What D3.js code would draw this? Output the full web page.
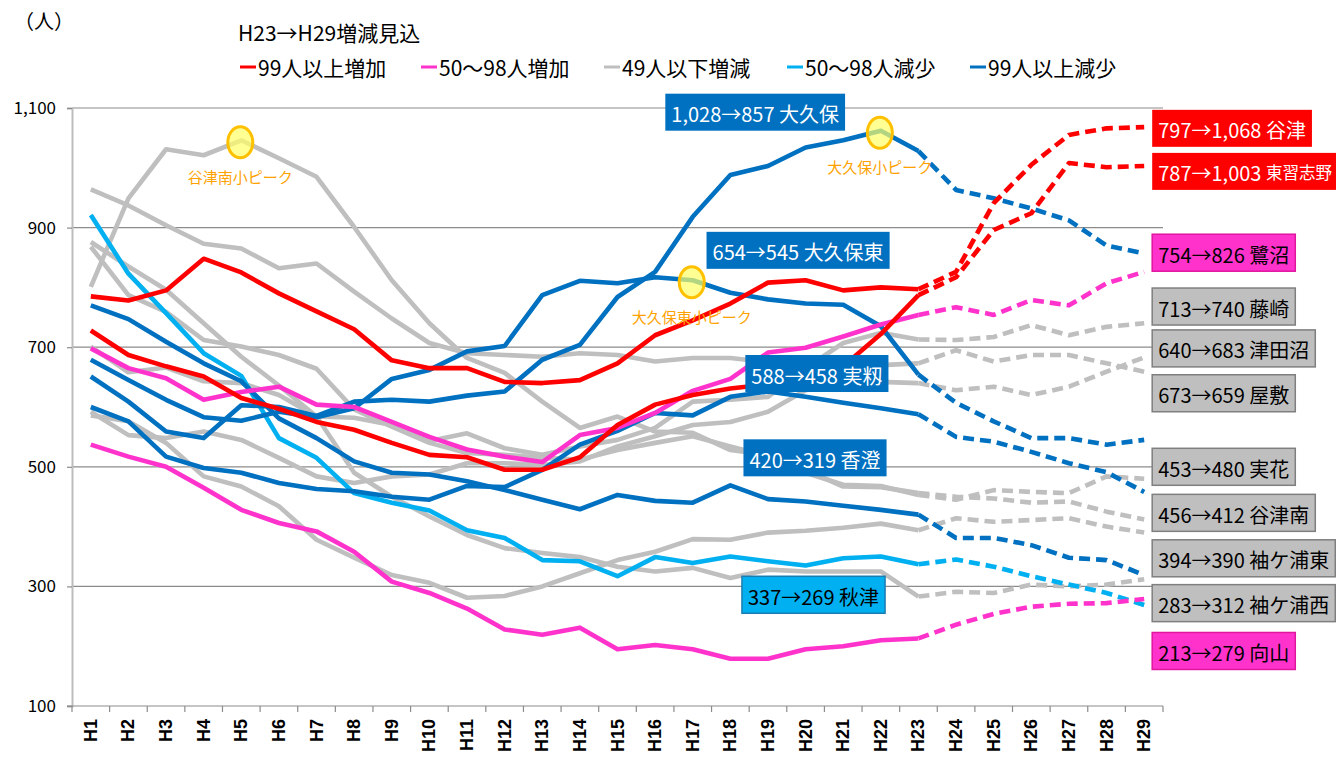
<!DOCTYPE html>
<html><head><meta charset="utf-8">
<script src="https://cdn.jsdelivr.net/npm/d3@7"></script>
<style>body{margin:0;background:#fff}svg{display:block}</style>
</head><body>
<svg id="c" width="1336" height="757"></svg>
<script>
// ---------- data ----------
const categories = ["H1","H2","H3","H4","H5","H6","H7","H8","H9","H10","H11","H12","H13","H14","H15","H16","H17","H18","H19","H20","H21","H22","H23","H24","H25","H26","H27","H28","H29"];
const yTicks = [100,300,500,700,900,1100];
const groupNames = ["99人以上増加","50〜98人増加","49人以下増減","50〜98人減少","99人以上減少"];
const groupColors = ["#FF0000","#FF33CC","#BFBFBF","#00B0F0","#0070C0"];
const legendTitle = "H23→H29増減見込";
const unitLabel = "（人）";

const yatsu        = [785,778,795,848,825,790,760,730,678,665,665,642,640,645,673,720,745,773,808,812,795,800,797,826,941,1005,1055,1066,1068];
const higashinarashino = [728,687,668,651,615,597,575,562,540,520,516,495,495,516,570,604,620,631,638,648,668,722,787,817,896,924,1008,1001,1003];
const saginuma     = [698,665,648,612,625,634,604,600,575,550,529,517,508,553,565,590,627,647,691,699,718,738,754,767,754,779,770,807,826];
const mukaiyama    = [537,517,500,465,428,406,392,358,308,289,263,228,219,231,195,202,195,179,179,195,200,210,213,236,254,266,271,272,279];
const fujisaki     = [701,658,666,643,640,620,584,582,570,543,556,531,520,534,545,565,609,612,617,665,707,724,713,712,717,737,720,734,740];
const tsudanuma    = [592,553,548,559,545,515,484,473,484,487,506,506,503,509,534,551,570,575,592,628,640,642,640,628,634,620,634,659,683];
const yashiki      = [964,937,904,873,865,832,840,793,748,707,690,687,684,690,687,676,682,682,675,672,670,670,673,695,676,687,687,673,659];
const mihana       = [868,787,759,712,701,687,664,596,567,540,523,520,515,512,528,540,551,534,518,490,470,468,453,445,461,458,456,484,480];
const yatsuminami  = [801,949,1031,1021,1046,1016,985,901,812,740,682,657,609,565,584,559,557,528,520,495,467,466,456,450,447,440,442,425,412];
const sodegauraHigashi = [586,576,540,484,467,434,378,348,319,306,281,284,300,322,344,358,379,378,390,393,398,405,394,414,408,411,414,400,390];
const sodegauraNishi   = [876,835,796,740,684,636,584,490,450,417,386,364,356,349,333,325,331,314,328,325,325,325,283,291,289,303,300,303,312];
const akitsu       = [921,823,757,690,652,548,515,456,440,427,394,381,344,342,317,349,339,350,342,335,347,350,337,345,333,317,303,289,269];
const okubo        = [651,609,559,548,603,600,585,609,612,609,619,626,679,704,784,826,918,988,1003,1034,1046,1062,1028,963,949,932,912,870,857];
const okuboHigashi = [679,645,612,583,577,592,583,598,647,662,693,702,787,811,807,817,812,791,780,773,771,735,654,607,576,548,548,537,545];
const mimomi       = [600,576,517,498,490,473,463,459,450,445,468,466,495,537,560,590,586,617,626,617,607,598,588,550,542,525,506,491,458];
const kasumi       = [770,747,709,673,643,581,548,509,490,487,476,461,445,429,453,443,440,469,446,442,435,428,420,381,381,369,348,344,319];

const series = [
  {key:"yashiki", name:"屋敷", group:2, values:yashiki},
  {key:"yatsuminami", name:"谷津南", group:2, values:yatsuminami},
  {key:"sodegauraNishi", name:"袖ケ浦西", group:2, values:sodegauraNishi},
  {key:"mihana", name:"実花", group:2, values:mihana},
  {key:"fujisaki", name:"藤崎", group:2, values:fujisaki},
  {key:"tsudanuma", name:"津田沼", group:2, values:tsudanuma},
  {key:"sodegauraHigashi", name:"袖ケ浦東", group:2, values:sodegauraHigashi},
  {key:"akitsu", name:"秋津", group:3, values:akitsu},
  {key:"kasumi", name:"香澄", group:4, values:kasumi},
  {key:"okuboHigashi", name:"大久保東", group:4, values:okuboHigashi},
  {key:"okubo", name:"大久保", group:4, values:okubo},
  {key:"mimomi", name:"実籾", group:4, values:mimomi},
  {key:"saginuma", name:"鷺沼", group:1, values:saginuma},
  {key:"mukaiyama", name:"向山", group:1, values:mukaiyama},
  {key:"higashinarashino", name:"東習志野", group:0, values:higashinarashino},
  {key:"yatsu", name:"谷津", group:0, values:yatsu}
];
const splitIndex = categories.indexOf("H23");

// peak annotations: series + category
const peaks = [
  {key:"yatsuminami", cat:"H5", text:"谷津南小ピーク"},
  {key:"okuboHigashi", cat:"H17", text:"大久保東小ピーク"},
  {key:"okubo", cat:"H22", text:"大久保小ピーク"}
];

// label layout (box centre in data units; right-side labels anchored beside H29)
const labelLayout = [
  {key:"okubo", ci:17.66, cv:1093},
  {key:"okuboHigashi", ci:18.80, cv:862},
  {key:"mimomi", ci:19.30, cv:656},
  {key:"kasumi", ci:19.25, cv:515},
  {key:"akitsu", ci:19.21, cv:286},
  {key:"yatsu", right:true, cv:1066},
  {key:"higashinarashino", right:true, cv:994, small:true},
  {key:"saginuma", right:true, cv:858},
  {key:"fujisaki", right:true, cv:768},
  {key:"tsudanuma", right:true, cv:698},
  {key:"yashiki", right:true, cv:623},
  {key:"mihana", right:true, cv:500},
  {key:"yatsuminami", right:true, cv:423},
  {key:"sodegauraHigashi", right:true, cv:347},
  {key:"sodegauraNishi", right:true, cv:272},
  {key:"mukaiyama", right:true, cv:192}
];

// ---------- chart ----------
const FONT = "'Noto Sans CJK JP','Noto Sans',sans-serif";
const svg = d3.select("#c").style("font-family", FONT);
const plotL = 72, plotR = 1163, plotT = 108, plotB = 706;
const x = d3.scaleBand().domain(categories).range([plotL, plotR]);
const bw = x.bandwidth();
const xc = c => x(c) + bw/2;
const xi = i => x(categories[0]) + bw/2 + i*bw;
const y = d3.scaleLinear().domain([100,1100]).range([plotB, plotT]);
const fmt = d3.format(",");

// gridlines
svg.append("g").selectAll("line").data(yTicks.filter(d=>d>100)).join("line")
  .attr("x1", plotL).attr("x2", plotR)
  .attr("y1", d=>y(d)).attr("y2", d=>y(d))
  .attr("stroke","#8c8c8c").attr("stroke-width",1.2);

// y axis
const yAxis = svg.append("g").attr("transform",`translate(${plotL},0)`)
  .call(d3.axisLeft(y).tickValues(yTicks).tickFormat(fmt).tickSize(5).tickPadding(11));
yAxis.select(".domain").attr("stroke","#bdbdbd").attr("stroke-width",2);
yAxis.selectAll(".tick line").attr("stroke","#8c8c8c").attr("stroke-width",1.2);
yAxis.selectAll("text").attr("font-family",FONT).attr("font-size",17).attr("fill","#000");

// x axis
const xg = svg.append("g");
xg.append("line").attr("x1",plotL-5).attr("x2",plotR).attr("y1",y(100)).attr("y2",y(100))
  .attr("stroke","#8c8c8c").attr("stroke-width",1.2);
xg.selectAll("line.tk").data(categories.concat(["end"])).join("line").attr("class","tk")
  .attr("x1",(d,i)=>plotL+i*bw).attr("x2",(d,i)=>plotL+i*bw)
  .attr("y1",y(100)).attr("y2",y(100)+6).attr("stroke","#8c8c8c").attr("stroke-width",1.2);
xg.selectAll("text").data(categories).join("text")
  .attr("transform",d=>`translate(${xc(d)},${y(100)+13}) rotate(-90)`)
  .attr("text-anchor","end").attr("dominant-baseline","central")
  .attr("font-family","'Liberation Sans',Arial,sans-serif").attr("font-weight","bold")
  .attr("font-size",18).text(d=>d);

// lines
const line = d3.line().x(d=>xc(d.c)).y(d=>y(d.v));
const order = [2,3,4,1,0];
const ordered = order.flatMap(g => series.filter(s=>s.group===g));
const gLines = svg.append("g").attr("fill","none").attr("stroke-linejoin","round");
ordered.forEach(s=>{
  const pts = s.values.map((v,i)=>({c:categories[i], v}));
  gLines.append("path").datum(pts.slice(0, splitIndex+1))
    .attr("d", line).attr("stroke", groupColors[s.group]).attr("stroke-width",4.6);
});
ordered.forEach(s=>{
  const pts = s.values.map((v,i)=>({c:categories[i], v}));
  gLines.append("path").datum(pts.slice(splitIndex))
    .attr("d", line).attr("stroke", groupColors[s.group]).attr("stroke-width",4.6)
    .attr("stroke-dasharray","11,6");
});

// peaks
const byKey = Object.fromEntries(series.map(s=>[s.key,s]));
peaks.forEach(p=>{
  const s = byKey[p.key];
  const v = s.values[categories.indexOf(p.cat)];
  const px = xc(p.cat), py = y(v);
  svg.append("ellipse").attr("cx",px-1).attr("cy",py+2).attr("rx",12.5).attr("ry",15.5)
    .attr("fill","#FFFF66").attr("fill-opacity",0.7)
    .attr("stroke","#FFC000").attr("stroke-width",3);
  svg.append("text").attr("x",px-1).attr("y",py+36).attr("text-anchor","middle")
    .attr("dominant-baseline","central").attr("font-size",15).attr("fill","#FFA200").text(p.text);
});

// labels
const boxStyle = [
  {fill:"#FF0000", stroke:"none", text:"#fff"},
  {fill:"#FF33CC", stroke:"#E0169F", text:"#000"},
  {fill:"#BFBFBF", stroke:"#7F7F7F", text:"#000"},
  {fill:"#00B0F0", stroke:"#1A7DB0", text:"#000"},
  {fill:"#0070C0", stroke:"none", text:"#fff"}
];
labelLayout.forEach(L=>{
  const s = byKey[L.key];
  const st = boxStyle[s.group];
  const g = svg.append("g");
  const t = g.append("text").attr("font-size",20).attr("fill",st.text).attr("dominant-baseline","central");
  t.append("tspan").text(`${fmt(s.values[splitIndex])}→${fmt(s.values[categories.length-1])} `);
  t.append("tspan").attr("font-size", L.small?16.5:20).text(s.name);
  const tw = t.node().getComputedTextLength();
  const pad = 6, bh = 37;
  const bwid = tw + pad*2;
  const cy = y(L.cv);
  const left = L.right ? xc("H29") + 8 : xi(L.ci) - bwid/2;
  g.insert("rect","text").attr("x",left).attr("y",cy-bh/2).attr("width",bwid).attr("height",bh)
    .attr("fill",st.fill).attr("stroke",st.stroke).attr("stroke-width",1.5);
  t.attr("x",left+pad).attr("y",cy+1);
});

// legend
svg.append("text").attr("x",14).attr("y",29).attr("font-size",20).text(unitLabel);
svg.append("text").attr("x",238).attr("y",41).attr("font-size",21).text(legendTitle);
const legX = [240,421,604,787,970];
groupNames.forEach((n,i)=>{
  svg.append("line").attr("x1",legX[i]).attr("x2",legX[i]+16).attr("y1",67).attr("y2",67)
    .attr("stroke",groupColors[i]).attr("stroke-width",3);
  svg.append("text").attr("x",legX[i]+18).attr("y",67).attr("dominant-baseline","central")
    .attr("font-size",21).text(n);
});
</script>
</body></html>
